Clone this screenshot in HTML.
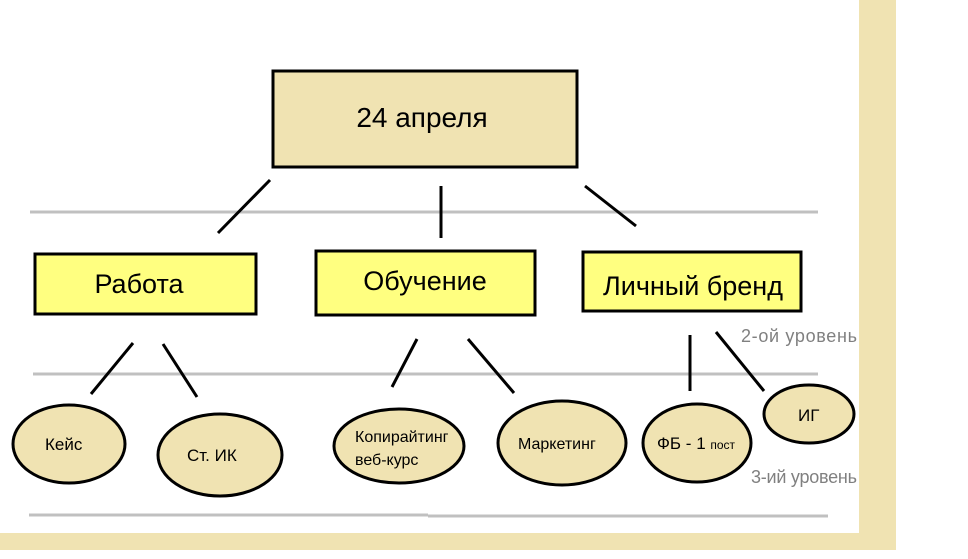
<!DOCTYPE html>
<html><head><meta charset="utf-8"><style>
html,body{margin:0;padding:0;background:#fff;}
svg{display:block;}
text{font-family:"Liberation Sans","DejaVu Sans",sans-serif;fill:#000;}
</style></head><body>
<svg width="968" height="559" viewBox="0 0 968 559" xmlns="http://www.w3.org/2000/svg">
<rect x="0" y="0" width="968" height="559" fill="#fff"/>
<rect x="859" y="0" width="37" height="550" fill="#f0e3b2"/>
<rect x="0" y="533" width="896" height="17" fill="#f0e3b2"/>
<g stroke="#c0c0c0" stroke-width="3">
<line x1="30" y1="212" x2="818" y2="212"/>
<line x1="33" y1="374" x2="818" y2="374"/>
<line x1="29" y1="515" x2="428" y2="515"/>
<line x1="428" y1="516" x2="828" y2="516"/>
</g>
<rect x="273" y="71" width="304" height="96" fill="#f0e3b2" stroke="#000" stroke-width="3"/>
<text x="422" y="127" font-size="28" text-anchor="middle">24 апреля</text>
<g stroke="#000" stroke-width="3">
<line x1="270" y1="180" x2="218" y2="233"/>
<line x1="441" y1="186" x2="441" y2="238"/>
<line x1="585" y1="186" x2="636" y2="226"/>
<line x1="133" y1="343" x2="91" y2="394"/>
<line x1="163" y1="344" x2="197" y2="397"/>
<line x1="417" y1="339" x2="392" y2="387"/>
<line x1="468" y1="339" x2="514" y2="393"/>
<line x1="690" y1="335" x2="690" y2="391"/>
<line x1="716" y1="332" x2="764" y2="391"/>
</g>
<rect x="35" y="254" width="221" height="60" fill="#ffff80" stroke="#000" stroke-width="3"/>
<text x="139" y="293" font-size="27" text-anchor="middle">Работа</text>
<rect x="316" y="251" width="219" height="64" fill="#ffff80" stroke="#000" stroke-width="3"/>
<text x="425" y="290" font-size="27" text-anchor="middle">Обучение</text>
<rect x="583" y="252" width="218" height="59" fill="#ffff80" stroke="#000" stroke-width="3"/>
<text x="693" y="295" font-size="27" text-anchor="middle">Личный бренд</text>
<g fill="#f0e3b2" stroke="#000" stroke-width="3">
<ellipse cx="69" cy="444" rx="56" ry="39"/>
<ellipse cx="220" cy="455" rx="62" ry="41"/>
<ellipse cx="399" cy="446" rx="65" ry="37"/>
<ellipse cx="562" cy="443" rx="64" ry="42"/>
<ellipse cx="697" cy="443" rx="54" ry="39"/>
<ellipse cx="809" cy="414" rx="45" ry="29"/>
</g>
<g font-size="16">
<text x="45" y="450" font-size="17">Кейс</text>
<text x="187" y="461" font-size="17">Ст. ИК</text>
<text x="355" y="442">Копирайтинг</text>
<text x="355" y="465">веб-курс</text>
<text x="518" y="449">Маркетинг</text>
<text x="657" y="449" font-size="17">ФБ - 1 <tspan font-size="12">пост</tspan></text>
<text x="798" y="421" font-size="17">ИГ</text>
</g>
<text x="741" y="342" font-size="18" textLength="116" style="fill:#808080">2-ой уровень</text>
<text x="751" y="483" font-size="18" textLength="106" style="fill:#808080">3-ий уровень</text>
</svg>
</body></html>
